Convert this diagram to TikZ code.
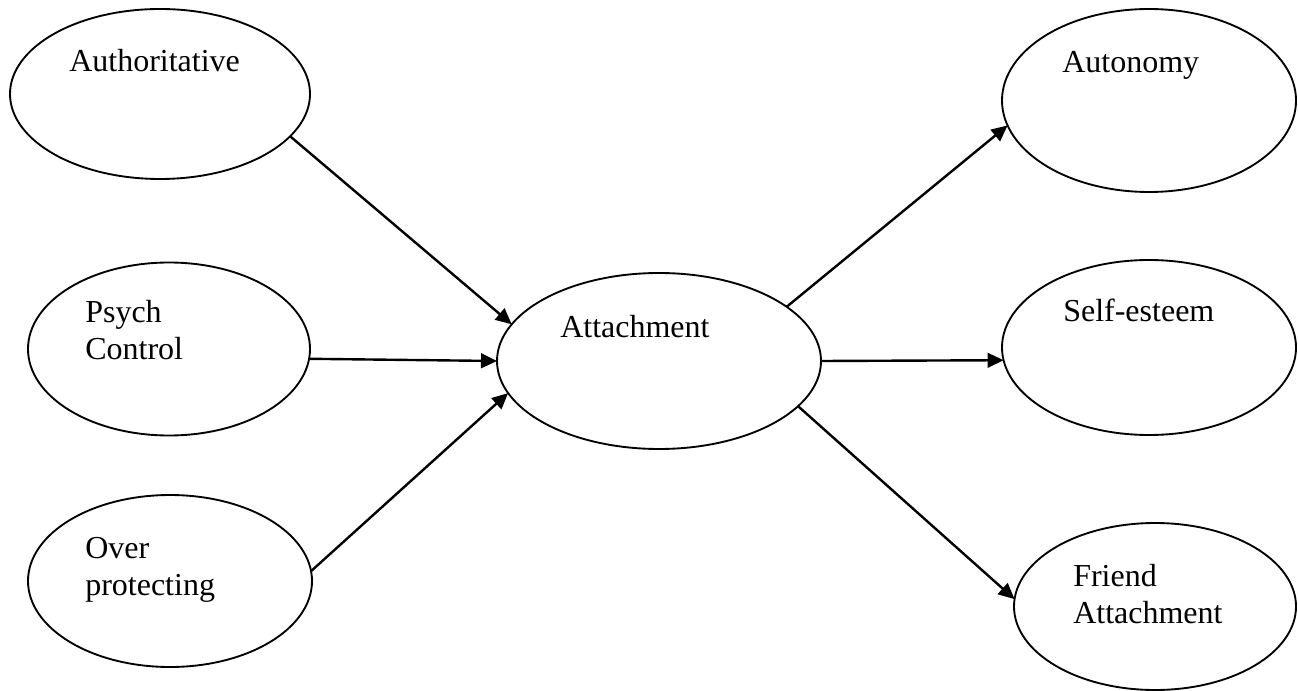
\documentclass[tikz,border=0pt]{standalone}
\usepackage{fontspec}
\setmainfont{Liberation Serif}
\usetikzlibrary{shapes.geometric,arrows.meta}

\begin{document}
\begin{tikzpicture}[x=0.75pt,y=-0.75pt,
  oval/.style={draw,ellipse,line width=1.4pt,inner sep=0pt,outer sep=0pt},
  txt/.style={anchor=base west,inner sep=0pt,align=left,font=\fontsize{24}{27.5}\selectfont},
  link/.style={line width=1.8pt,-{Triangle[length=12pt,width=11pt]}}]
  \useasboundingbox[fill=white] (0,0) rectangle (1298,691);

  \node[oval,minimum width=225pt,minimum height=127.5pt] (auth) at (160,94) {};
  \node[oval,minimum width=211.5pt,minimum height=129.75pt] (psych) at (169,349) {};
  \node[oval,minimum width=213pt,minimum height=129pt] (over) at (170,581) {};
  \node[oval,minimum width=243pt,minimum height=132pt] (attach) at (659,361) {};
  \node[oval,minimum width=220.5pt,minimum height=137.25pt] (auton) at (1149,100.5) {};
  \node[oval,minimum width=220.5pt,minimum height=131.25pt] (selfe) at (1149,347.5) {};
  \node[oval,minimum width=211.5pt,minimum height=125.25pt] (friend) at (1155,606.5) {};

  \node[txt] (tauth) at (69,72) {Authoritative};
  \node[txt] (tpsych) at (85,359) {Psych\\Control};
  \node[txt] (tover) at (85,595) {Over\\protecting};
  \node[txt] (tattach) at (560,337) {Attachment};
  \node[txt] (tauton) at (1062,73) {Autonomy};
  \node[txt] (tselfe) at (1063,322) {Self-esteem};
  \node[txt] (tfriend) at (1073,623) {Friend\\Attachment};

  \draw[link] (auth.-18) -- (attach.166);
  \draw[link] (psych.-4) -- (attach.180);
  \draw[link] (over.4) -- (attach.192);
  \draw[link] (attach.23) -- (auton.190);
  \draw[link] (attach.0) -- (selfe.185);
  \draw[link] (attach.-18) -- (friend.177);
\end{tikzpicture}
\end{document}
